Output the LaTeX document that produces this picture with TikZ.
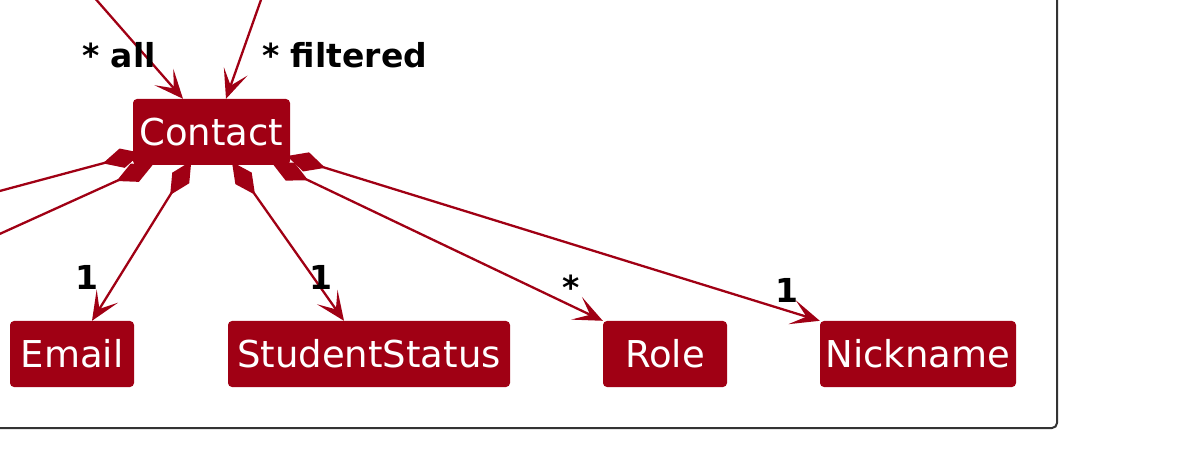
\documentclass[tikz,border=0pt]{standalone}
\usepackage{fontspec}
\setmainfont{DejaVu Sans}
\usetikzlibrary{arrows.meta}
\definecolor{boxred}{HTML}{A00014}
\definecolor{framegray}{HTML}{333333}
\pgfdeclarelayer{bg}
\pgfsetlayers{bg,main}
\begin{document}
\begin{tikzpicture}[x=1pt,y=-1pt,
  cls/.style={fill=boxred, text=white, rounded corners=4pt, minimum height=66pt, inner sep=0pt, font=\fontsize{37}{40}\selectfont},
  lbl/.style={inner sep=0pt, font=\bfseries\fontsize{33}{36}\selectfont, text=black},
  headtip/.tip={Stealth[length=29pt,width=25pt,inset=15pt]},
  assoc/.style={draw=boxred, line width=2.3pt, -{headtip}},
  comp/.style={draw=boxred, line width=2.3pt, {Diamond[length=40pt,width=20pt,fill=boxred]}-{headtip}},
  compoff/.style={draw=boxred, line width=2.3pt, {Diamond[length=40pt,width=20pt,fill=boxred]}-},
]
\useasboundingbox (0,0) rectangle (1195,449);
\clip (0,0) rectangle (1195,449);

% classes
\node[cls, minimum width=157pt] (contact) at (211.5,132) {Contact};
\node[cls, minimum width=124pt] (email) at (72,354) {Email};
\node[cls, minimum width=282pt] (status) at (369,354) {StudentStatus};
\node[cls, minimum width=124pt] (role) at (665,354) {Role};
\node[cls, minimum width=196pt] (nick) at (918,354) {Nickname};

\begin{pgfonlayer}{bg}
% frame
\draw[framegray, line width=2pt, rounded corners=5pt] (-30,-30) rectangle (1057,428);

% incoming associations
\coordinate (srcAll) at (79,-20);
\coordinate (srcFilt) at (268,-20);
\draw[assoc] (srcAll) -- ([xshift=-28.5pt]contact.north);
\draw[assoc] (srcFilt) -- ([xshift=14.5pt]contact.north);

% composition start points (inside Contact)
\coordinate (cA) at (141.5,153);
\coordinate (cB) at (153,164.5);
\coordinate (cE) at (191.3,161);
\coordinate (cS) at (232,162);
\coordinate (cR) at (272,163);
\coordinate (cN) at (287,156);
\coordinate (offA) at (-60,207);
\coordinate (offB) at (-60,261);

\draw[compoff] (cA) -- (offA);
\draw[compoff] (cB) -- (offB);
\draw[comp] (cE) -- ([xshift=20pt]email.north);
\draw[comp] (cS) -- ([xshift=-25pt]status.north);
\draw[comp] (cR) -- (role.north west);
\draw[comp] (cN) -- (nick.north west);
\end{pgfonlayer}

\node[lbl, anchor=base west] (lAll) at (82,68) {* all};
\node[lbl, anchor=base west] (lFilt) at (262,68) {* filtered};

% multiplicities
\node[lbl, anchor=base] (mE) at (86.5,290) {1};
\node[lbl, anchor=base] (mS) at (320.5,290) {1};
\node[lbl, anchor=base] (mR) at (571,300) {*};
\node[lbl, anchor=base] (mN) at (786.5,303) {1};
\end{tikzpicture}
\end{document}
